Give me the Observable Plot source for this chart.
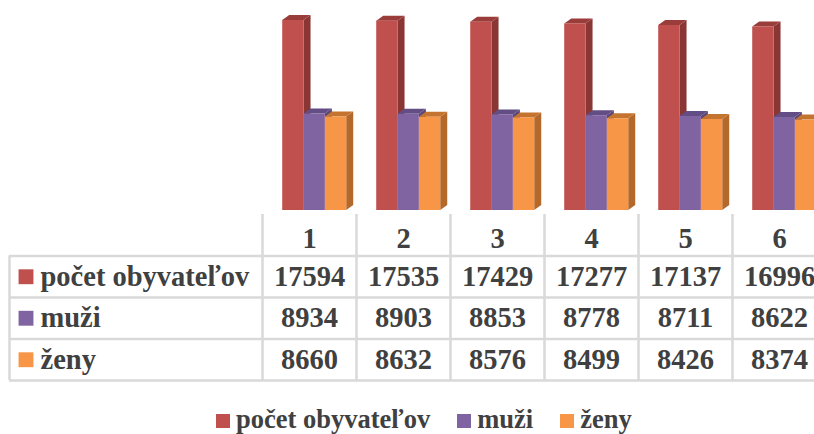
<!DOCTYPE html>
<html>
<head>
<meta charset="utf-8">
<script src="https://cdn.jsdelivr.net/npm/d3@7"></script>
<script src="https://cdn.jsdelivr.net/npm/@observablehq/plot@0.6"></script>
<style>
  html, body { margin: 0; padding: 0; background: #fff; overflow: hidden; }
  #wrap { position: relative; width: 814px; height: 434px; overflow: hidden; }
  #wrap svg { display: block; background: transparent; }
  #legend { position: absolute; left: 216px; top: 406px; white-space: nowrap;
    font-family: "Liberation Serif", "Times New Roman", serif; font-weight: bold;
    font-size: 26.5px; line-height: 26px; color: #404040; }
  #legend .item { display: inline-block; margin-right: 27px; }
  #legend .sw { display: inline-block; width: 14px; height: 14px; margin-right: 6px; vertical-align: baseline; }
</style>
</head>
<body>
<div id="wrap"><div id="chart"></div><div id="table"></div><div id="legend"></div></div>
<script>
// ---- data ----
const columns = ["1", "2", "3", "4", "5", "6"];
const seriesNames = ["počet obyvateľov", "muži", "ženy"];
const pocet = [17594, 17535, 17429, 17277, 17137, 16996];
const muzi = [8934, 8903, 8853, 8778, 8711, 8622];
const zeny = [8660, 8632, 8576, 8499, 8426, 8374];
const frontColors = ["#c0504d", "#8064a2", "#f79646"];
const sideColors = ["#8a3634", "#5b4678", "#b4682a"];
const topColors = ["#9a3d3a", "#624d84", "#c4742f"];

// ---- layout ----
const seriesValues = [pocet, muzi, zeny];
const COL_W = 94.0, X0 = 262, TABLE_LEFT = 9;
const BAR_W = 0.227, BAR_OFF = 0.215;       // in column units
const DEPTH_X = 7 / COL_W;                    // 3D depth (column units)
const maxV = d3.max(pocet);
const Y_BASE = 210, Y_TOP = 20;
const DEPTH_Y = 5 * maxV / (Y_BASE - Y_TOP); // 3D depth in value units
const xScale = {type: "linear", domain: [0, columns.length], range: [X0, X0 + columns.length * COL_W]};
const font = '"Liberation Serif", "Times New Roman", serif';
const ink = "#404040";
const grid = "#d9d9d9";

// ---- bars ----
const bars = [];
seriesValues.forEach((vals, s) => vals.forEach((v, i) => {
  const xa = i + BAR_OFF + s * BAR_W;
  bars.push({id: s + "-" + i, s, i, v, xa, xb: xa + BAR_W});
}));

const barMarks = [];
seriesValues.forEach((_, s) => {
  const b = bars.filter(d => d.s === s);
  const sides = b.flatMap(d => [
    {z: d.id, x: d.xb, y1: 0, y2: d.v},
    {z: d.id, x: d.xb + DEPTH_X, y1: DEPTH_Y, y2: d.v + DEPTH_Y}
  ]);
  const tops = b.flatMap(d => [
    {z: d.id, y: d.v, x1: d.xa, x2: d.xb},
    {z: d.id, y: d.v + DEPTH_Y, x1: d.xa + DEPTH_X, x2: d.xb + DEPTH_X}
  ]);
  barMarks.push(Plot.areaY(sides, {x: "x", y1: "y1", y2: "y2", z: "z", fill: sideColors[s]}));
  barMarks.push(Plot.areaX(tops, {y: "y", x1: "x1", x2: "x2", z: "z", fill: topColors[s]}));
  barMarks.push(Plot.rect(b, {x1: "xa", x2: "xb", y1: () => 0, y2: "v", fill: frontColors[s]}));
});

const chart = Plot.plot({
  width: 814, height: 214, margin: 0,
  x: {...xScale, axis: null},
  y: {domain: [0, maxV], range: [Y_BASE, Y_TOP], axis: null},
  marks: barMarks
});
document.getElementById("chart").append(chart);

// ---- data table ----
const ROW_H = 41.5;
const cells = [];
seriesValues.forEach((vals, s) => vals.forEach((v, i) => cells.push({row: s + 1, col: i, text: String(v)})));
const table = Plot.plot({
  width: 814, height: 170, margin: 0,
  x: {...xScale, axis: null},
  y: {domain: [0, 4], range: [0, 4 * ROW_H], axis: null},
  marks: [
    Plot.ruleY([1, 2, 3, 4], {insetLeft: TABLE_LEFT, stroke: grid, strokeWidth: 2.5}),
    Plot.ruleX(d3.range(0, columns.length + 1), {y1: 0, y2: 4, stroke: grid, strokeWidth: 2.5}),
    Plot.ruleX([(TABLE_LEFT - X0) / COL_W], {y1: 1, y2: 4, stroke: grid, strokeWidth: 2.5}),
    Plot.text(columns, {x: (d, i) => i + 0.5, y: () => 0.5, text: d => d, dy: 4,
      fontFamily: font, fontWeight: "bold", fontSize: 28.5, fill: ink}),
    Plot.text(cells, {x: d => d.col + 0.5, y: d => d.row + 0.5, text: "text",
      fontFamily: font, fontWeight: "bold", fontSize: 28.5, fill: ink}),
    Plot.dot(seriesNames, {y: (d, i) => i + 1.5, frameAnchor: "left", dx: 25.5, symbol: "square",
      r: 8.4, fill: (d, i) => frontColors[i], stroke: null}),
    Plot.text(seriesNames, {y: (d, i) => i + 1.5, text: d => d, frameAnchor: "left", dx: 40, textAnchor: "start",
      fontFamily: font, fontWeight: "bold", fontSize: 28.5, fill: ink})
  ]
});
table.style.overflow = "hidden";
document.getElementById("table").append(table);

// ---- legend ----
const legend = document.getElementById("legend");
seriesNames.forEach((name, s) => {
  const item = document.createElement("span");
  item.className = "item";
  const sw = document.createElement("span");
  sw.className = "sw";
  sw.style.background = frontColors[s];
  item.append(sw, document.createTextNode(name));
  legend.append(item);
});
</script>
</body>
</html>
